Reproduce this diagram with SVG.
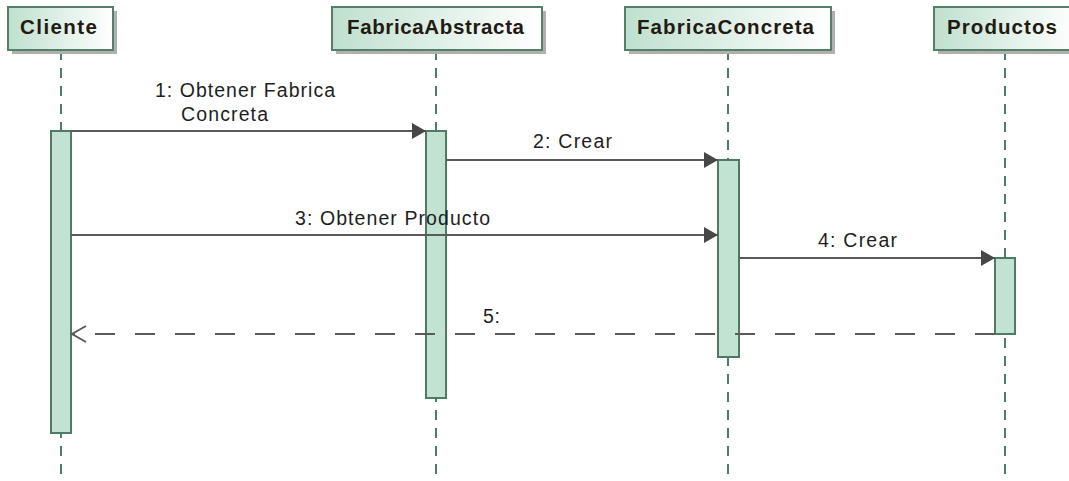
<svg xmlns="http://www.w3.org/2000/svg" width="1069" height="481" viewBox="0 0 1069 481">
  <style>
    .head { stroke: #557f68; stroke-width: 2; fill: url(#headFill); }
    .shadow { fill: #b0b0b0; }
    .headText { font-family: "Liberation Sans", Arial, sans-serif; font-weight: bold; font-size: 20.5px; fill: #231a12; }
    .life { stroke: #4f7a63; stroke-width: 2; stroke-dasharray: 10 8; fill: none; }
    .act { fill: #c2e2d2; stroke: #4f7a63; stroke-width: 2; }
    .msg { stroke: #5a5a5a; stroke-width: 2; fill: none; }
    .ret { stroke: #5a5a5a; stroke-width: 2; fill: none; stroke-dasharray: 20 20; }
    .label { font-family: "Liberation Sans", Arial, sans-serif; font-size: 19.5px; fill: #1e1e1e; }
  </style>
  <defs>
    <linearGradient id="headFill" x1="0" y1="0" x2="1" y2="0">
      <stop offset="0" stop-color="#bfe0cf"/>
      <stop offset="1" stop-color="#ffffff"/>
    </linearGradient>
    <marker id="solidHead" markerUnits="userSpaceOnUse" markerWidth="15" markerHeight="17" refX="14" refY="8" orient="auto">
      <path d="M0,0 L14,8 L0,16 z" fill="#474747"/>
    </marker>
    <marker id="openHead" markerUnits="userSpaceOnUse" markerWidth="17" markerHeight="19" refX="15" refY="9" orient="auto">
      <path d="M1,1 L15,9 L1,17" fill="none" stroke="#5a5a5a" stroke-width="2"/>
    </marker>
  </defs>

  <rect width="1069" height="481" fill="#ffffff"/>

  <!-- lifelines -->
  <g id="lifelines">
    <line class="life" x1="61" y1="50" x2="61" y2="481"/>
    <line class="life" x1="436" y1="50" x2="436" y2="481"/>
    <line class="life" x1="728" y1="50" x2="728" y2="481"/>
    <line class="life" x1="1005" y1="50" x2="1005" y2="481"/>
  </g>

  <g id="cliente">
    <rect class="shadow" x="12" y="11" width="105" height="43"/>
    <rect class="head" x="8" y="7" width="105" height="43"/>
    <text class="headText" x="20" y="34" textLength="77">Cliente</text>
    <rect class="act" x="51" y="131" width="20" height="302"/>
  </g>

  <g id="fabricaAbstracta">
    <rect class="shadow" x="336" y="11" width="210" height="43"/>
    <rect class="head" x="332" y="7" width="210" height="43"/>
    <text class="headText" x="347" y="34" textLength="177">FabricaAbstracta</text>
    <rect class="act" x="426" y="131" width="20" height="267"/>
  </g>

  <g id="fabricaConcreta">
    <rect class="shadow" x="629" y="11" width="206" height="43"/>
    <rect class="head" x="625" y="7" width="206" height="43"/>
    <text class="headText" x="637" y="34" textLength="177">FabricaConcreta</text>
    <rect class="act" x="718" y="160" width="21" height="197"/>
  </g>

  <g id="productos">
    <rect class="shadow" x="938" y="11" width="142" height="43"/>
    <rect class="head" x="934" y="7" width="142" height="43"/>
    <text class="headText" x="947" y="34" textLength="110">Productos</text>
    <rect class="act" x="995" y="258" width="20" height="76"/>
  </g>

  <!-- messages -->
  <g id="connectors">
    <line class="msg" x1="71" y1="131" x2="426" y2="131" marker-end="url(#solidHead)"/>
    <text class="label" x="155" y="97" textLength="180">1: Obtener Fabrica</text>
    <text class="label" x="181" y="121" textLength="87">Concreta</text>

    <line class="msg" x1="446" y1="160" x2="718" y2="160" marker-end="url(#solidHead)"/>
    <text class="label" x="533" y="148" textLength="79">2: Crear</text>

    <line class="msg" x1="71" y1="235" x2="718" y2="235" marker-end="url(#solidHead)"/>
    <text class="label" x="295" y="225" textLength="195">3: Obtener Producto</text>

    <line class="msg" x1="739" y1="258" x2="995" y2="258" marker-end="url(#solidHead)"/>
    <text class="label" x="818" y="247" textLength="79">4: Crear</text>

    <line class="ret" x1="995" y1="334" x2="72" y2="334" marker-end="url(#openHead)"/>
    <text class="label" x="483" y="323" textLength="17">5:</text>
  </g>
</svg>
